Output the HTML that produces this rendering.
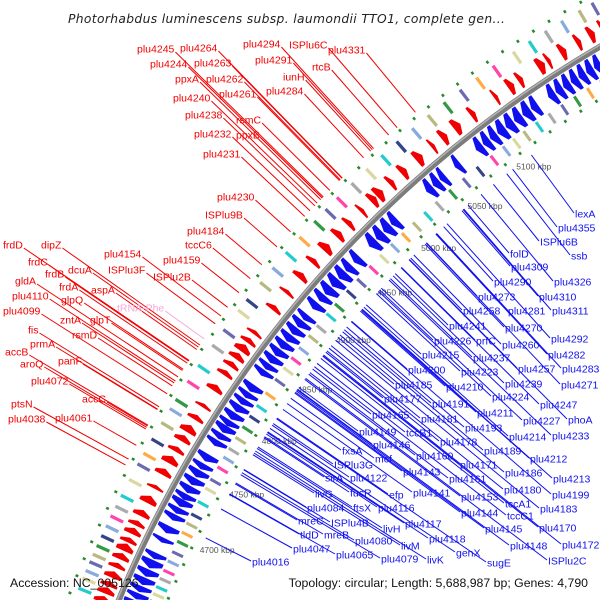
<!DOCTYPE html>
<html><head><meta charset="utf-8"><style>
html,body{margin:0;padding:0;background:#fff;width:600px;height:600px;overflow:hidden}
svg{display:block;overflow:hidden}
.lab{font-family:"Liberation Sans",sans-serif;font-size:10.5px}
</style></head><body>
<svg id="map" width="600" height="600" viewBox="0 0 600 600" xmlns="http://www.w3.org/2000/svg">
<defs><clipPath id="clip"><rect width="600" height="600"/></clipPath></defs>
<rect width="600" height="600" fill="#fff"/>
<g clip-path="url(#clip)">
<g id="rings"></g>
<g id="leaders"></g>
<g id="labels"></g>
</g>
<text x="68" y="23" font-family="DejaVu Sans,sans-serif" font-style="italic" font-size="12.3" letter-spacing="0.35" fill="#222">Photorhabdus luminescens subsp. laumondii TTO1, complete gen...</text>
<text x="10" y="587" font-family="Liberation Sans,sans-serif" font-size="12.3" fill="#111">Accession: NC_005126</text>
<text x="588" y="587" text-anchor="end" font-family="Liberation Sans,sans-serif" font-size="12.3" fill="#111">Topology: circular; Length: 5,688,987 bp; Genes: 4,790</text>
</svg>
<script>
const redStart=[4632,4639,4645,4652,4660,4667,4674,4681,4688,4695,4703,4714,4726,4738,4748,4758,4767,4775,4786,4797,4812,4826,4834,4841,4848,4856,4864,4887,4903,4918,4933,4946,4960,4972,4986,4997,5003,5016,5028,5043,5058,5068,5080,5096,5118,5131,5140,5158,5166,5178,5192,5203,5213,5222];
const redLen=[5,5,4,5,4,5,6,4,5,4,5,6,3,5,6,4,5,6,4,3,5,4,4,5,6,4,3,4,3,5,4,6,5,4,3,5,6,4,5,6,3,5,6,4,3,5,4,6,3,5,4,5,4,5];
const blueStart=[4630,4637,4644,4650,4656,4663,4670,4678,4692,4700,4711,4717,4723,4729,4735,4742,4749,4756,4763,4777,4783,4789,4795,4801,4808,4815,4821,4827,4842,4848,4854,4861,4868,4875,4882,4889,4896,4907,4915,4922,4930,4938,4946,4955,4972,4980,4988,4996,5033,5040,5047,5062,5083,5090,5097,5104,5112,5120,5128,5136,5152,5159,5166,5173,5180,5187,5194,5201,5208,5215,5222];
const blueLen=[6,6,5,5,6,6,7,5,4,6,5,5,6,5,6,6,6,5,6,5,5,6,5,6,6,5,5,6,5,5,6,6,6,6,6,6,5,6,6,7,7,7,6,6,7,7,7,6,6,6,5,5,6,6,6,7,7,7,7,6,6,6,6,6,6,6,6,6,6,6,5];
const outerBox=[4634,4642,4648,4655,4661,4668,4676,4684,4692,4700,4709,4722,4735,4744,4756,4770,4782,4790,4806,4820,4838,4852,4870,4880,4896,4910,4925,4940,4956,4968,4980,4995,5010,5025,5040,5055,5070,5085,5100,5115,5130,5148,5162,5176,5190,5205,5216,5226];
const outerCol=[2,6,1,0,3,5,7,1,4,8,2,6,0,9,7,3,1,5,4,2,8,0,6,7,3,1,2,9,5,0,4,8,6,2,7,1,3,5,0,9,4,6,2,8,1,3,0,4];
const innerBox=[4633,4640,4646,4652,4658,4665,4672,4680,4688,4697,4705,4713,4721,4732,4744,4752,4763,4772,4780,4790,4800,4810,4820,4832,4845,4856,4866,4876,4888,4898,4910,4920,4934,4946,4960,4972,4984,4996,5008,5020,5032,5046,5060,5074,5088,5100,5110,5120,5132,5144,5156,5168,5180,5192,5204,5214,5224];
const innerCol=[3,0,5,6,2,8,4,1,0,5,9,3,7,2,6,0,4,1,8,3,5,7,2,9,0,6,4,1,3,8,2,5,7,0,4,6,1,9,3,2,8,5,0,7,4,1,6,3,2,8,0,5,9,1,7,4,2];
const kbpTicks=[4700,4750,4800,4850,4900,4950,5000,5050,5100];
const redLabels=[["plu4245",137,49],["plu4264",180,48],["plu4294",243,44],["ISPlu6C",289,45],["plu4331",328,50],["plu4244",150,64],["plu4263",194,63],["plu4291",255,60],["rtcB",312,67],["ppxA",175,79],["plu4262",206,79],["iunH",283,77],["plu4240",173,98],["plu4261",219,94],["plu4284",266,91],["plu4238",185,115],["rsmC",236,120],["plu4232",194,134],["ppxB",236,135],["plu4231",203,154],["plu4230",217,197],["ISPlu9B",205,215],["plu4184",187,231],["tccC6",185,245],["plu4154",104,254],["plu4159",163,260],["ISPlu3F",108,270],["ISPlu2B",153,277],["frdD",3,245],["dipZ",41,245],["frdC",28,262],["frdB",45,274],["dcuA",68,270],["gldA",15,281],["frdA",59,287],["aspA",91,290],["plu4110",12,296],["glpQ",61,300],["plu4099",3,311],["zntA",60,320],["glpT",90,320],["fis",28,330],["rsmD",72,335],["prmA",30,344],["accB",5,352],["panF",58,361],["aroQ",20,364],["plu4072",31,381],["accC",82,399],["ptsN",11,404],["plu4038",8,419],["plu4061",55,418]];
const blueLabels=[["lexA",575,214],["plu4355",558,228],["ISPlu6B",540,242],["ssb",571,256],["folD",510,254],["plu4309",511,267],["plu4326",554,282],["plu4290",494,282],["plu4310",539,297],["plu4273",478,297],["plu4258",463,311],["plu4281",508,311],["plu4311",552,311],["plu4270",505,328],["plu4241",449,326],["plu4292",551,339],["plu4226",434,341],["prfC",476,341],["plu4260",502,345],["plu4282",548,355],["plu4215",422,355],["plu4237",473,358],["plu4257",518,369],["plu4283",562,369],["plu4200",408,370],["plu4223",461,372],["plu4239",505,384],["plu4271",561,385],["plu4185",395,385],["plu4210",446,387],["plu4224",492,397],["plu4247",540,405],["plu4177",384,399],["plu4191",432,404],["plu4211",477,413],["plu4227",523,421],["phoA",568,420],["plu4165",372,415],["plu4181",421,419],["plu4193",465,428],["plu4214",509,437],["plu4233",552,436],["plu4149",359,432],["tccB1",406,433],["plu4178",440,442],["plu4146",373,445],["plu4189",484,451],["plu4212",530,459],["fxsA",342,451],["mcf",375,459],["plu4160",416,456],["plu4171",460,465],["ISPlu3G",334,465],["plu4143",403,472],["plu4186",505,473],["plu4213",553,479],["sirA",325,478],["plu4122",350,478],["plu4161",449,479],["plu4180",504,490],["plu4199",552,495],["livG",315,494],["fucR",350,493],["efp",389,495],["plu4141",413,493],["plu4153",461,497],["tccA1",505,504],["plu4183",540,509],["plu4084",307,508],["ftsX",353,508],["plu4116",378,508],["plu4144",461,513],["tccC1",507,516],["plu4170",539,528],["plu4117",405,524],["mreC",298,521],["ISPlu4B",331,523],["livH",383,529],["plu4145",485,529],["plu4172",562,545],["tldD",300,535],["mreB",324,535],["plu4080",355,541],["livM",401,546],["plu4118",429,539],["plu4148",510,546],["plu4047",293,549],["plu4065",336,555],["plu4079",381,559],["livK",427,560],["genX",456,553],["sugE",487,563],["ISPlu2C",548,561],["plu4016",252,562]];

const NS="http://www.w3.org/2000/svg";
const CX=1178,CY=1035,R=1145;
const palette=['#6a6ab0','#88aadd','#22cccc','#b8b880','#ff44aa','#339944','#d8d8a0','#334488','#aaaaaa','#ffaa44'];
function ang(k){return (206.38+(k-4700)*0.0658)*Math.PI/180;}
function P(r,a){return [CX+r*Math.cos(a),CY+r*Math.sin(a)];}
function pt(p){return p[0].toFixed(1)+","+p[1].toFixed(1);}
const rings=document.getElementById('rings');
function mk(tag,attrs,parent){const e=document.createElementNS(NS,tag);for(const k in attrs)e.setAttribute(k,attrs[k]);parent.appendChild(e);return e;}

[R+48,R-45].forEach(function(r,i){
  const c=mk('circle',{cx:CX,cy:CY,r:r,fill:'none',stroke:'#2a8a2a','stroke-width':3,'stroke-dasharray':'2.5 16'},rings);
  
  
});
const bb=mk('circle',{cx:CX,cy:CY,r:R,fill:'none',stroke:'#7c7c7c','stroke-width':6},rings);


const bb2=mk('circle',{cx:CX,cy:CY,r:R+1.5,fill:'none',stroke:'#b4b4b4','stroke-width':1.5},rings);



function arrow(s,l,r1,r2,fwd,color,name){
  let a1=ang(s),a2=ang(s+l);
  const head=Math.min((a2-a1)*0.55,0.006);
  let pts;
  if(fwd){pts=[P(r1,a1),P(r2,a1),P(r2,a2-head),P((r1+r2)/2,a2),P(r1,a2-head)];}
  else{pts=[P(r1,a2),P(r2,a2),P(r2,a1+head),P((r1+r2)/2,a1),P(r1,a1+head)];}
  const e=mk('polygon',{points:pts.map(pt).join(' '),fill:color},rings);
  
  
}
redStart.forEach(function(s,i){arrow(s,redLen[i],R+6,R+24,true,'#f00000','forward-gene');});
blueStart.forEach(function(s,i){arrow(s,blueLen[i],R-27,R-4,false,'#1010ee','reverse-gene');});
function box(s,r1,r2,c,name){
  const a1=ang(s),a2=ang(s+2.4);
  const pts=[P(r1,a1),P(r2,a1),P(r2,a2),P(r1,a2)];
  const e=mk('polygon',{points:pts.map(pt).join(' '),fill:palette[c]},rings);
  
  
}
outerBox.forEach(function(s,i){box(s,R+28,R+42,outerCol[i],'outer-cog-feature');});
innerBox.forEach(function(s,i){box(s,R-41,R-29,innerCol[i],'inner-cog-feature');});
kbpTicks.forEach(function(k){
  const p=P(R-53,ang(k));
  const t=mk('text',{x:p[0].toFixed(1),y:(p[1]+3).toFixed(1),'font-family':'Liberation Sans,sans-serif','font-size':'8.5',fill:'#555'},rings);
  t.textContent=k+' kbp';
  
  
});

const labels=document.getElementById('labels'),leaders=document.getElementById('leaders');
function addLabel(d,color,isRed){
  const t=mk('text',{x:d[1],y:d[2]+3.5,'class':'lab',fill:color},labels);
  t.textContent=d[0];
  
  
  let ax,ay,r;
  if(isRed){ax=d[1]+t.getComputedTextLength()+1;ay=d[2]+3;r=R+52;}
  else{ax=d[1]-1;ay=d[2]-1;r=R-53;}
  const a=Math.atan2(ay-CY,ax-CX);
  const e=P(r,a);
  const ln=mk('line',{x1:ax.toFixed(1),y1:ay.toFixed(1),x2:e[0].toFixed(1),y2:e[1].toFixed(1),stroke:color,'stroke-width':1},leaders);
  
  
}
redLabels.forEach(function(d){addLabel(d,'#f00000',true);});
blueLabels.forEach(function(d){addLabel(d,'#1010ee',false);});
addLabel(["tRNA-Phe",117,308],'#f8a8d8',true);
</script>
</body></html>
